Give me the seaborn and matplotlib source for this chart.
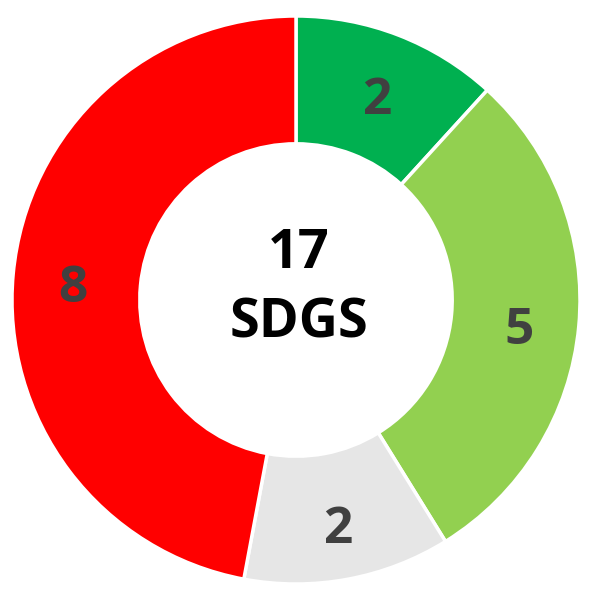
import matplotlib
matplotlib.use("Agg")
import matplotlib.pyplot as plt
import seaborn as sns

# SDG status counts, clockwise from 12 o'clock
counts = [2, 5, 2, 8]
colours = ["#00B050", "#92D050", "#E6E6E6", "#FF0000"]
centre_text = "17\nSDGS"

sns.set_theme(style="white")
plt.rcParams["font.family"] = ["Open Sans", "DejaVu Sans"]

fig = plt.figure(figsize=(5.92, 5.90), dpi=100)
ax = fig.add_axes([0, 0, 1, 1])

wedges, labels = ax.pie(
    counts,
    colors=colours,
    labels=[str(c) for c in counts],
    labeldistance=0.79,
    startangle=90,
    counterclock=False,
    radius=1.0,
    wedgeprops=dict(width=0.45, edgecolor="white", linewidth=2.5),
    textprops=dict(fontsize=37, fontweight="bold", color="#404040",
                   ha="center", va="center"),
)
# nudge labels down a touch, like the original layout
for lab in labels:
    x, y = lab.get_position()
    lab.set_position((x, y - 0.035))

ax.text(0.01, 0.04, centre_text, ha="center", va="center", fontsize=39,
        fontweight="bold", color="black", linespacing=1.38)

ax.set_xlim(-296 / 284, 296 / 284)
ax.set_ylim(-290 / 284, 300 / 284)
ax.axis("off")

fig.savefig("out.png", dpi=100, facecolor="white")
